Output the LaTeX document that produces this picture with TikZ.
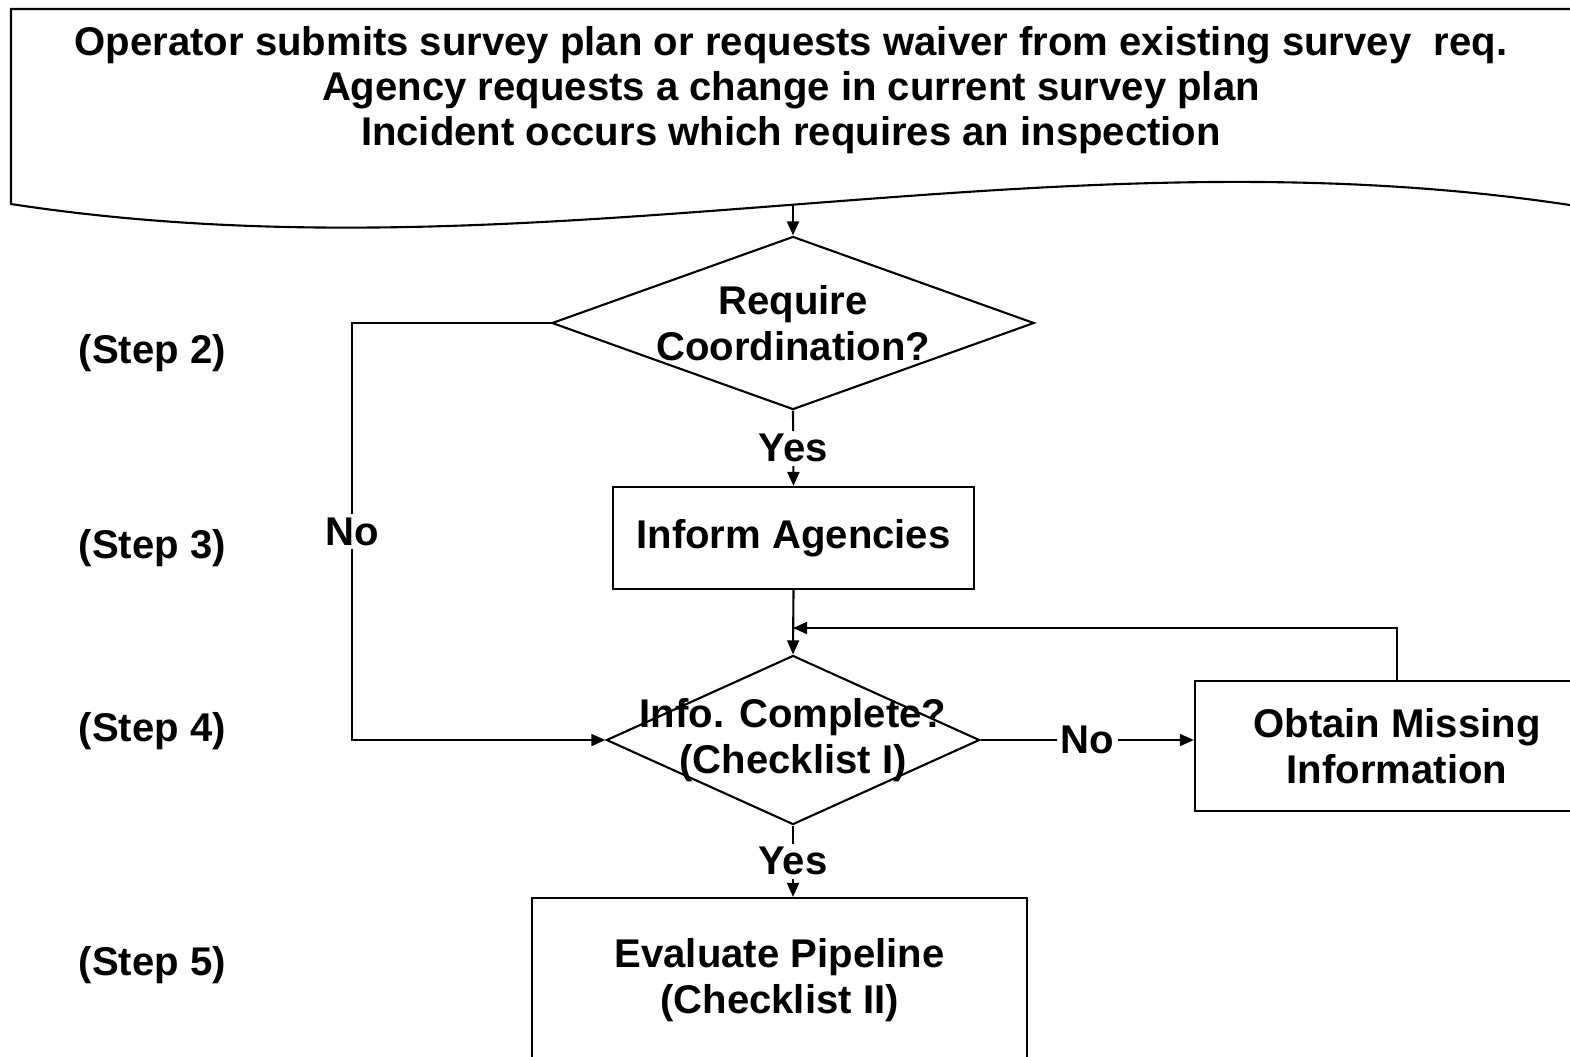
\documentclass[tikz,border=0pt]{standalone}
\usepackage{fontspec}
\setmainfont{Liberation Sans}
\usetikzlibrary{shapes.geometric,arrows.meta}

\tikzset{
  flowline/.style={line width=0.6pt},
  flowarrow/.style={line width=0.6pt,-{Triangle[length=4pt,width=3.4pt]}},
  decision/.style={draw,line width=0.6pt,diamond,inner sep=0pt},
  procbox/.style={draw,line width=0.6pt,rectangle,inner sep=0pt,align=center},
  tag/.style={fill=white,inner sep=1pt},
}

\begin{document}
\begin{tikzpicture}[x=0.01cm,y=-0.01cm,font=\fontsize{11.4}{12.9}\selectfont\bfseries]
    \useasboundingbox (0,0) rectangle (1570,1056);
    \draw[flowline] (1600,9) -- (11,9) -- (11,204) .. controls (540,285) and (1040,125) .. (1570,205);
    \node[align=center] (src) at (791,90) {Operator submits survey plan or requests waiver from existing survey\ \ req.\\Agency requests a change in current survey plan\\Incident occurs which requires an inspection};
    \coordinate (srcout) at (793,205);

    \node[decision,minimum width=4.82cm,minimum height=1.73cm] (coord) at (793,323) {};
    \node[align=center] (coordtext) at (coord) {Require\\Coordination?};
    \node[procbox,minimum width=3.61cm,minimum height=1.02cm] (inform) at (793.5,538) {Inform Agencies};
    \node[decision,minimum width=3.73cm,minimum height=1.69cm] (info) at (793,740) {};
    \node[align=center] (infotext) at (info) {Info. Complete?\\(Checklist I)};
    \node[procbox,minimum width=4.04cm,minimum height=1.30cm] (obtain) at (1397,746) {Obtain Missing\\Information};
    \node[procbox,minimum width=4.95cm,minimum height=1.64cm] (eval) at (779.5,980) {Evaluate Pipeline\\(Checklist II)};

    \foreach \s/\y in {2/353,3/548,4/731,5/965}
    \node[anchor=west,inner sep=0pt] (step\s) at (78,\y) {(Step \s)};

    \coordinate (join) at (793,628);
    \coordinate (noturn) at (352,740);
    \draw[flowarrow] (srcout) -- (coord.north);
    \draw[flowarrow] (coord.south) -- node[tag] (yes1) {Yes} (inform.north);
    \draw[flowarrow] (inform.south) -- (info.north);
    \draw[flowarrow] (obtain.north) |- (join);
    \draw[flowarrow] (coord.west) -| node[tag,pos=0.75] (no1) {No} (noturn) -- (info.west);
    \draw[flowarrow] (info.east) -- node[tag] (no2) {No} (info.east -| obtain.west);
    \draw[flowarrow] (info.south) -- node[tag] (yes2) {Yes} (info.south |- eval.north);
\end{tikzpicture}
\end{document}
